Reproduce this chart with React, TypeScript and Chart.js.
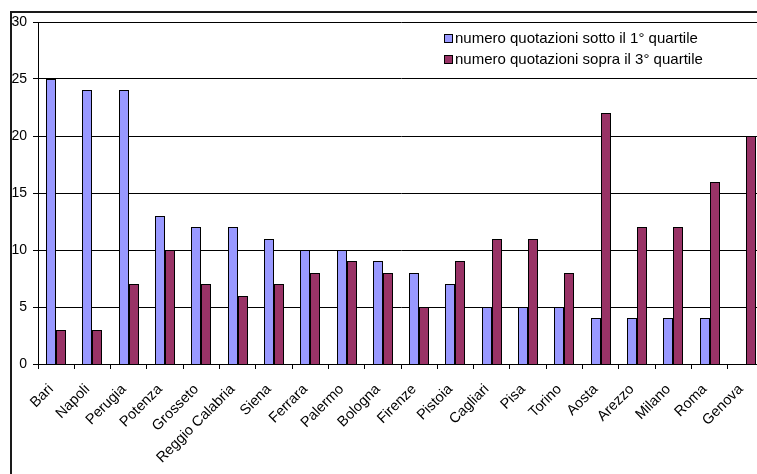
import React, { useEffect, useRef } from "react";
import { Chart, registerables } from "chart.js";

Chart.register(...registerables);

const cities = [
  "Bari", "Napoli", "Perugia", "Potenza", "Grosseto", "Reggio Calabria",
  "Siena", "Ferrara", "Palermo", "Bologna", "Firenze", "Pistoia",
  "Cagliari", "Pisa", "Torino", "Aosta", "Arezzo", "Milano", "Roma", "Genova",
];

const sottoPrimoQuartile = [25, 24, 24, 13, 12, 12, 11, 10, 10, 9, 8, 7, 5, 5, 5, 4, 4, 4, 4, 0];
const sopraTerzoQuartile = [3, 3, 7, 10, 7, 6, 7, 8, 9, 8, 5, 9, 11, 11, 8, 22, 12, 12, 16, 20];

const seriesLabels = [
  "numero quotazioni sotto il 1° quartile",
  "numero quotazioni sopra il 3° quartile",
];

const yTicks = [0, 5, 10, 15, 20, 25, 30];

const FONT = "'Liberation Sans', Arial, sans-serif";

// Snap bar edges to whole pixels so the outlines stay crisp
const snapBarsPlugin = {
  id: "snapBars",
  beforeDatasetsDraw(chart: any) {
    chart.data.datasets.forEach((_: any, i: number) => {
      const meta = chart.getDatasetMeta(i);
      meta.data.forEach((el: any) => {
        const w = Math.round(el.width);
        const left = Math.round(el.x - el.width / 2);
        el.width = w;
        el.x = left + w / 2;
        el.y = Math.round(el.y);
        el.base = Math.round(el.base);
      });
    });
  },
};

// Outer frame edges, rotated category labels and the legend
const decorPlugin = {
  id: "decor",
  afterDraw(chart: any) {
    const ctx = chart.ctx as CanvasRenderingContext2D;
    ctx.save();
    ctx.strokeStyle = "#1a1a1a";
    ctx.lineWidth = 2;
    ctx.beginPath();
    ctx.moveTo(11, chart.height);
    ctx.lineTo(11, 12);
    ctx.lineTo(chart.width, 12);
    ctx.stroke();

    // category labels, rotated 45 degrees and ending just left of the category centre
    const xs = chart.scales.x;
    ctx.fillStyle = "#000";
    ctx.font = `14.5px ${FONT}`;
    ctx.textAlign = "right";
    ctx.textBaseline = "middle";
    (chart.data.labels as string[]).forEach((lab, i) => {
      const cx = xs.getPixelForTick(i);
      ctx.save();
      ctx.translate(cx - 5, xs.top + 23);
      ctx.rotate(-Math.PI / 4);
      ctx.fillText(lab, 0, 0);
      ctx.restore();
    });

    const rows = [39, 60];
    chart.data.datasets.forEach((ds: any, i: number) => {
      const y = rows[i];
      ctx.fillStyle = ds.backgroundColor;
      ctx.fillRect(444, y - 5, 9, 9);
      ctx.strokeStyle = "#000";
      ctx.lineWidth = 1;
      ctx.strokeRect(444.5, y - 4.5, 8, 8);
      ctx.fillStyle = "#000";
      ctx.font = `15px ${FONT}`;
      ctx.textBaseline = "middle";
      ctx.textAlign = "left";
      ctx.fillText(ds.label, 455, y);
    });
    ctx.restore();
  },
};

export default function App() {
  const canvasRef = useRef<HTMLCanvasElement | null>(null);

  useEffect(() => {
    if (!canvasRef.current) return;
    const chart = new Chart(canvasRef.current, {
      type: "bar",
      data: {
        labels: cities,
        datasets: [
          {
            label: seriesLabels[0],
            data: sottoPrimoQuartile,
            backgroundColor: "#9999FF",
            borderColor: "#000000",
            borderWidth: 1,
            categoryPercentage: 0.55,
            barPercentage: 1,
          },
          {
            label: seriesLabels[1],
            data: sopraTerzoQuartile,
            backgroundColor: "#993366",
            borderColor: "#000000",
            borderWidth: 1,
            categoryPercentage: 0.55,
            barPercentage: 1,
          },
        ],
      },
      options: {
        responsive: false,
        animation: false,
        devicePixelRatio: 1,
        layout: { padding: { top: 22, left: 0, right: 2, bottom: 0 } },
        plugins: {
          legend: { display: false },
          title: { display: false },
          tooltip: { enabled: false },
        },
        scales: {
          x: {
            grid: {
              display: true,
              offset: true,
              drawOnChartArea: false,
              drawTicks: true,
              tickLength: 5,
              color: "#000",
            },
            border: { display: true, color: "#000", width: 1 },
            ticks: { display: false, autoSkip: false },
            afterFit: (s: any) => {
              s.height = 110;
            },
          },
          y: {
            min: 0,
            max: 30,
            afterBuildTicks: (s: any) => {
              s.ticks = yTicks.map((v) => ({ value: v }));
            },
            grid: {
              color: "#000",
              drawTicks: true,
              tickLength: 5,
            },
            border: { display: true, color: "#000", width: 1 },
            ticks: {
              color: "#000",
              font: { family: FONT, size: 14 },
              padding: 6,
            },
            afterFit: (s: any) => {
              s.width = 38;
            },
          },
        },
      },
      plugins: [snapBarsPlugin, decorPlugin],
    });
    return () => chart.destroy();
  }, []);

  return (
    <div
      style={{
        position: "fixed",
        left: 0,
        top: 0,
        width: 757,
        height: 474,
        overflow: "hidden",
        background: "#fff",
      }}
    >
      <canvas ref={canvasRef} width={766} height={474} style={{ display: "block" }} />
    </div>
  );
}
